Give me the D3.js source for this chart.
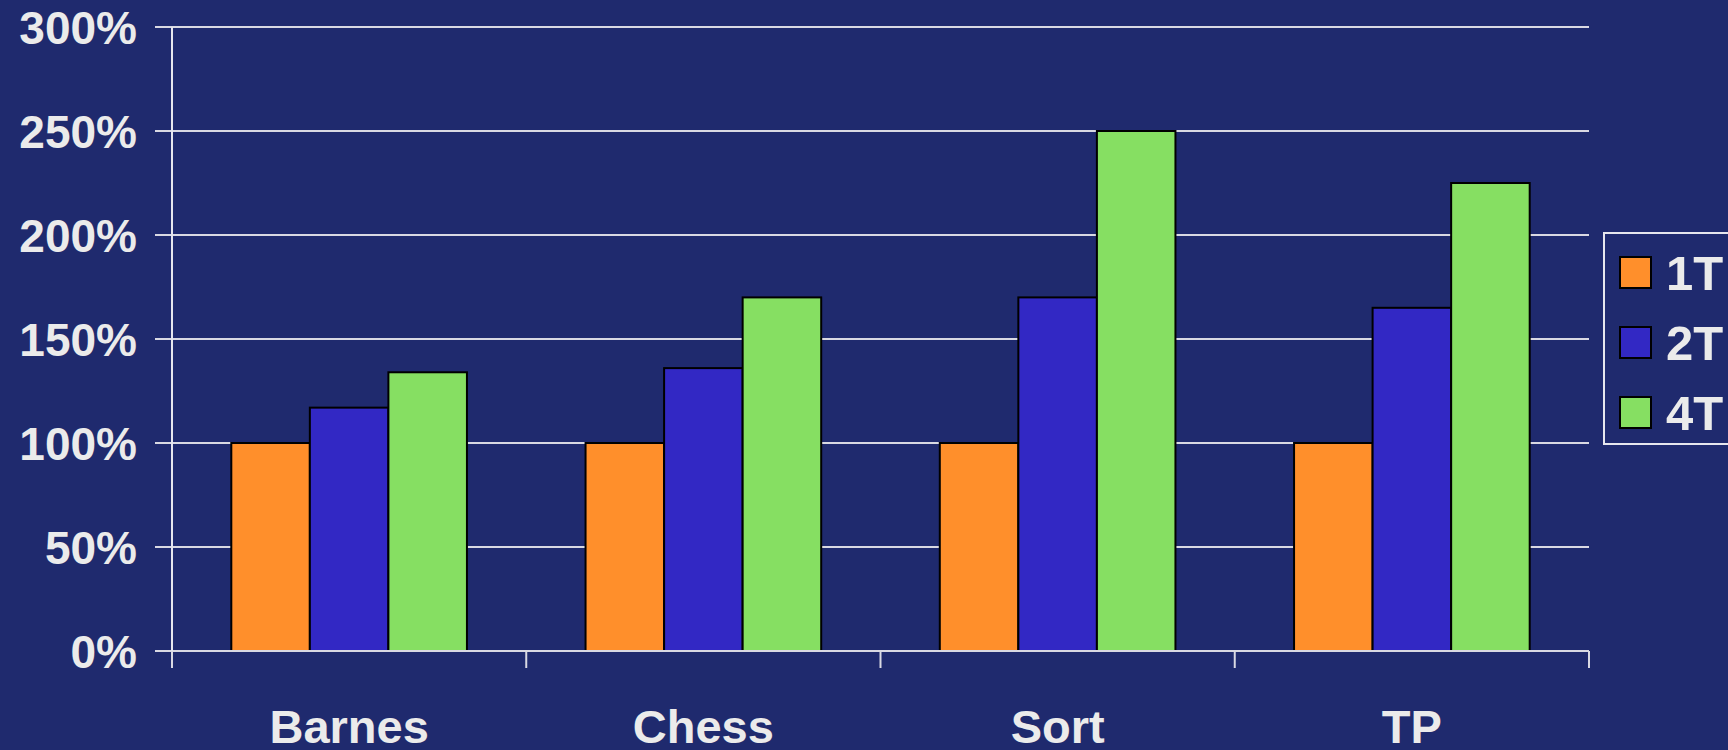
<!DOCTYPE html>
<html>
<head>
<meta charset="utf-8">
<script src="https://cdn.jsdelivr.net/npm/d3@7/dist/d3.min.js"></script>
<style>
  html, body { margin: 0; padding: 0; background: #1f2a6e; overflow: hidden; }
  svg { display: block; }
  text { font-family: "Liberation Sans", Arial, sans-serif; font-weight: bold; fill: #ebebeb; }
</style>
</head>
<body>
<svg id="chart" width="1728" height="750"></svg>
<script>
// Benchmarks and thread counts
const categories = ["Barnes", "Chess", "Sort", "TP"];
const seriesNames = ["1T", "2T", "4T"];
// Speedup relative to one thread (1.0 = 100%)
const values1T = [1.00, 1.00, 1.00, 1.00];
const values2T = [1.17, 1.36, 1.70, 1.65];
const values4T = [1.34, 1.70, 2.50, 2.25];
const yTicks = [0, 0.5, 1, 1.5, 2, 2.5, 3];
const colors = ["#ff8f2b", "#3228c4", "#86df62"];

const seriesValues = [values1T, values2T, values4T];
const rows = categories.map((c, i) => ({
  category: c,
  bars: seriesNames.map((s, j) => ({ series: s, value: seriesValues[j][i], color: colors[j] }))
}));

const svg = d3.select("#chart");
const plot = { left: 172, right: 1589, top: 27, bottom: 651 };

const x = d3.scaleBand().domain(categories).range([plot.left, plot.right]).paddingInner(0).paddingOuter(0);
const xInner = d3.scaleBand().domain(seriesNames).range([0, x.bandwidth()]).paddingInner(0).paddingOuter(0.755);
const y = d3.scaleLinear().domain([0, 3]).range([plot.bottom, plot.top]);

const gridColor = "#d9d9e3";

// Horizontal gridlines with outward tick stubs
svg.append("g")
  .selectAll("line")
  .data(yTicks)
  .join("line")
  .attr("x1", plot.left - 17)
  .attr("x2", plot.right)
  .attr("y1", d => y(d))
  .attr("y2", d => y(d))
  .attr("stroke", gridColor)
  .attr("stroke-width", 2);

// Y tick labels
svg.append("g")
  .selectAll("text")
  .data(yTicks)
  .join("text")
  .attr("x", 137)
  .attr("y", d => y(d) + 17)
  .attr("text-anchor", "end")
  .attr("font-size", 46)
  .text(d3.format(".0%"));

// Bars
const groups = svg.append("g")
  .selectAll("g")
  .data(rows)
  .join("g")
  .attr("transform", d => `translate(${x(d.category)},0)`);

groups.selectAll("rect")
  .data(d => d.bars)
  .join("rect")
  .attr("x", d => xInner(d.series))
  .attr("width", xInner.bandwidth())
  .attr("y", d => y(d.value))
  .attr("height", d => y(0) - y(d.value))
  .attr("fill", d => d.color)
  .attr("stroke", "#000")
  .attr("stroke-width", 2);

// Baseline redrawn over bar bottoms
svg.append("line")
  .attr("x1", plot.left - 17).attr("x2", plot.right)
  .attr("y1", y(0)).attr("y2", y(0))
  .attr("stroke", gridColor).attr("stroke-width", 2);

// Vertical axis line
svg.append("line")
  .attr("x1", plot.left).attr("x2", plot.left)
  .attr("y1", plot.top).attr("y2", plot.bottom)
  .attr("stroke", "#e6e6ee").attr("stroke-width", 2);

// Category boundary ticks under the baseline
const boundaries = categories.map(c => x(c)).concat([plot.right]);
svg.append("g")
  .selectAll("line")
  .data(boundaries)
  .join("line")
  .attr("x1", d => d).attr("x2", d => d)
  .attr("y1", y(0)).attr("y2", y(0) + 17)
  .attr("stroke", gridColor).attr("stroke-width", 2);

// Category labels
svg.append("g")
  .selectAll("text")
  .data(categories)
  .join("text")
  .attr("x", d => x(d) + x.bandwidth() / 2)
  .attr("y", 743)
  .attr("text-anchor", "middle")
  .attr("font-size", 47)
  .text(d => d);

// Legend
const legend = svg.append("g").attr("transform", "translate(1604,233)");
legend.append("rect")
  .attr("x", 0).attr("y", 0)
  .attr("width", 200).attr("height", 211)
  .attr("fill", "none")
  .attr("stroke", "#e6e6ee")
  .attr("stroke-width", 2);

const items = legend.selectAll("g.item")
  .data(seriesNames)
  .join("g")
  .attr("class", "item")
  .attr("transform", (d, i) => `translate(16,${24 + i * 70})`);

items.append("rect")
  .attr("width", 31).attr("height", 31)
  .attr("fill", (d, i) => colors[i])
  .attr("stroke", "#000")
  .attr("stroke-width", 2);

items.append("text")
  .attr("x", 46)
  .attr("y", 33)
  .attr("font-size", 49)
  .text(d => d);
</script>
</body>
</html>
